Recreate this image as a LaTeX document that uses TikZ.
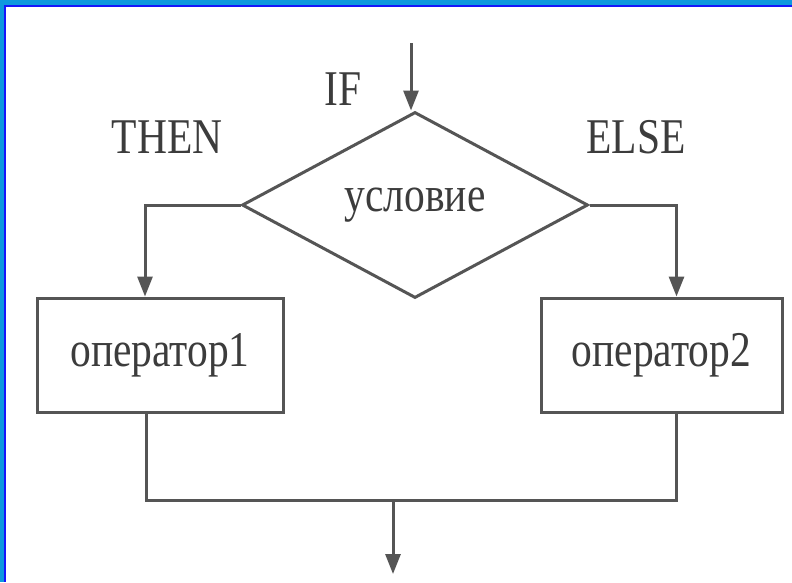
\documentclass[tikz,border=0pt]{standalone}
\usepackage{fontspec}
\setmainfont{Liberation Serif}[FakeStretch=0.83]
\usetikzlibrary{shapes.geometric,arrows.meta}
\definecolor{framecyan}{RGB}{14,152,222}
\definecolor{frameblue}{RGB}{22,22,250}
\definecolor{linegray}{RGB}{85,85,85}
\definecolor{textgray}{RGB}{60,60,60}
\tikzset{
  lbl/.style={text=textgray,font=\fontsize{50}{60}\selectfont,inner sep=0pt},
  blk/.style={draw=linegray,line width=3pt,rectangle,text=textgray,font=\fontsize{50}{60}\selectfont,inner sep=0pt},
  cond/.style={draw=linegray,line width=3pt,diamond,text=textgray,font=\fontsize{50}{60}\selectfont,inner sep=0pt,minimum width=346pt,minimum height=186pt},
  conn/.style={draw=linegray,line width=3pt},
  arr/.style={conn,-{Triangle[length=20pt,width=15pt]}}
}
\begin{document}
\begin{tikzpicture}[x=1pt,y=-1pt]
\useasboundingbox (0,0) rectangle (792,582);
\fill[white] (0,0) rectangle (792,582);
% frame
\fill[framecyan] (0,0) rectangle (792,5);
\fill[framecyan] (0,0) rectangle (4,582);
\fill[frameblue] (4,5) rectangle (792,7);
\fill[frameblue] (4,5) rectangle (6,582);
% nodes
\node[cond] (dia) at (415,205) {условие};
\node[blk,minimum width=246pt,minimum height=114pt] (b1) at (160,355) {оператор1};
\node[blk,minimum width=241pt,minimum height=114pt] (b2) at (661.5,355) {оператор2};
\node[lbl,anchor=base] (tif) at (343,105) {IF};
\node[lbl,anchor=base] (tthen) at (167,153) {THEN};
\node[lbl,anchor=base] (telse) at (636,153) {ELSE};
\coordinate (in) at (411,43);
\coordinate (join) at (393,500);
\coordinate (out) at (393,574);
% connectors
\draw[arr] (in) -- (in |- dia.north);
\draw[arr] (dia.west) -| ([xshift=-15pt]b1.north);
\draw[arr] (dia.east) -| ([xshift=15pt]b2.north);
\draw[conn] ([xshift=-14pt]b1.south) |- (join) -| ([xshift=15pt]b2.south);
\draw[arr] (join) -- (out);
\end{tikzpicture}
\end{document}
